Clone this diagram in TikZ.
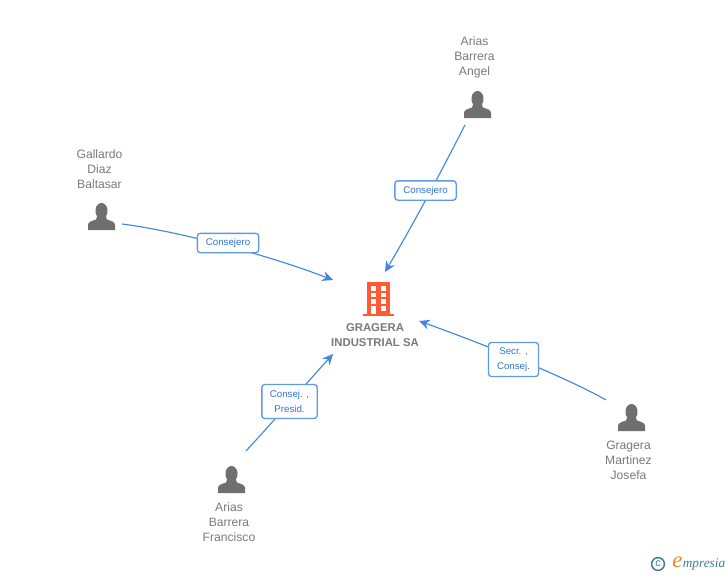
\documentclass[tikz,border=0pt]{standalone}
\usepackage{fontspec}
\setmainfont{Liberation Sans}
\newfontfamily\logofont{Liberation Serif}
\usetikzlibrary{arrows.meta}
\definecolor{edgeblue}{HTML}{4387E2}
\definecolor{boxblue}{HTML}{5F9AE8}
\definecolor{labelblue}{HTML}{2F74D0}
\definecolor{persongray}{HTML}{6F6F6F}
\definecolor{textgray}{HTML}{7A7A7A}
\definecolor{buildorange}{HTML}{FF5A33}
\definecolor{logoteal}{HTML}{3E7F94}
\definecolor{logoorange}{HTML}{F08A1D}
\newcommand{\personglyph}[2]{%
  \begin{scope}[shift={(#1,#2)}]
    \fill[persongray] (-13.5,14) -- (-13.5,9) .. controls (-13.5,6) and (-10,5) .. (-5.5,3.5)
      .. controls (-4.5,2.8) and (-4.2,2) .. (-4.4,0.5) .. controls (-5.8,-1) and (-6.2,-4) .. (-6,-6.5)
      .. controls (-5.5,-10.5) and (-2.7,-13) .. (0,-13) .. controls (2.7,-13) and (5.5,-10.5) .. (6,-6.5)
      .. controls (6.2,-4) and (5.8,-1) .. (4.4,0.5) .. controls (4.2,2) and (4.5,2.8) .. (5.5,3.5)
      .. controls (10,5) and (13.5,6) .. (13.5,9) -- (13.5,14) -- cycle;
  \end{scope}}
\newcommand{\rl}[1]{\raisebox{-1.4pt}{#1}}
\tikzset{
  x=0.75pt, y=-0.75pt,
  personlabel/.style={align=center, text=textgray, font=\fontsize{9.1}{11.25}\selectfont, inner sep=0pt},
  companylabel/.style={align=center, text=textgray, font=\fontsize{8.5}{11.25}\selectfont\bfseries, inner sep=0pt},
  rolebox/.style={draw=boxblue, line width=1pt, fill=white, rounded corners=2.2pt, align=center, text=labelblue,
    font=\fontsize{7.3}{11.25}\selectfont, inner sep=0pt, minimum height=14.5pt},
  link/.style={draw=edgeblue, line width=0.85pt},
  arrowlink/.style={link, -{Stealth[length=8pt,width=7.5pt,inset=2.6pt]}},
}
\begin{document}
\begin{tikzpicture}
\useasboundingbox (0,0) rectangle (728,575);
\fill[white] (0,0) rectangle (728,575);

% anchors
\coordinate (gallardo) at (122,224);
\coordinate (angel) at (465,125);
\coordinate (josefa) at (606,400);
\coordinate (francisco) at (246,451);
\coordinate (inW) at (333,280);
\coordinate (inN) at (385,272);
\coordinate (inE) at (419,321);
\coordinate (inS) at (333,354);

% connectors
\draw[arrowlink] (gallardo) .. controls (170,230) and (260,252) .. (inW);
\draw[arrowlink] (angel) .. controls (447,160) and (417,218) .. (inN);
\draw[arrowlink] (josefa) .. controls (575,382) and (500,350) .. (inE);
\draw[arrowlink] (francisco) .. controls (270,425) and (305,385) .. (inS);

% role boxes
\node[rolebox, minimum width=46pt] (r1) at (228,243) {\rl{Consejero}};
\node[rolebox, minimum width=46pt] (r2) at (425.5,190.5) {\rl{Consejero}};
\node[rolebox, minimum width=37.5pt, minimum height=25.5pt] (r3) at (513.5,359.5) {\rl{Secr. ,}\\\rl{Consej.}};
\node[rolebox, minimum width=41.5pt, minimum height=25.5pt] (r4) at (289.5,401.5) {\rl{Consej. ,}\\\rl{Presid.}};

% people
\personglyph{101.5}{216}
\personglyph{477.5}{104}
\personglyph{631.5}{417}
\personglyph{231.5}{479}
\node[personlabel] (n1) at (99.5,169) {Gallardo\\Diaz\\Baltasar};
\node[personlabel] (n2) at (474.5,57) {Arias\\Barrera\\Angel};
\node[personlabel] (n3) at (628.5,460) {Gragera\\Martinez\\Josefa};
\node[personlabel] (n4) at (229,522) {Arias\\Barrera\\Francisco};

% building
\fill[buildorange] (366.5,282) rectangle (389.5,314);
\fill[buildorange] (362.5,313.5) rectangle (393.5,316);
\foreach \yy in {286,292.5,299} {
  \fill[white] (370.5,\yy) rectangle (375.5,\yy+4.5);
  \fill[white] (380.5,\yy) rectangle (385.5,\yy+4.5);
}
\fill[white] (370.5,306) rectangle (375.5,313.5);
\fill[white] (380.5,306) rectangle (385.5,310.5);
\node[companylabel] (company) at (375,335) {GRAGERA\\INDUSTRIAL SA};

% logo
\draw[logoteal, line width=1.1pt] (658,564) circle (6.4);
\node[text=logoteal, font=\fontsize{8}{8}\selectfont, inner sep=0pt] (copy) at (658,563.7) {c};
\node[text=logoorange, font=\logofont\itshape\fontsize{17}{17}\selectfont, inner sep=0pt] (logoe) at (677.5,562.5) {e};
\node[text=logoteal, font=\logofont\itshape\fontsize{10}{10}\selectfont, inner sep=0pt, anchor=west] (logot) at (682.5,564.5) {mpresia};
\end{tikzpicture}
\end{document}
